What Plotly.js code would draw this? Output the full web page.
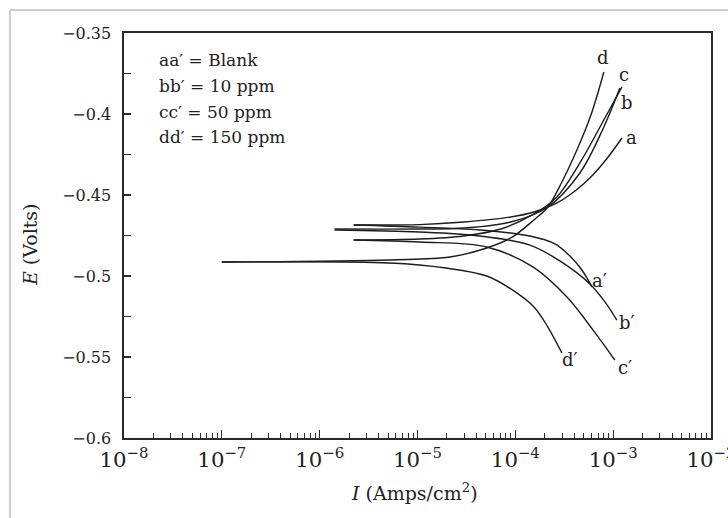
<!DOCTYPE html>
<html>
<head>
<meta charset="utf-8">
<script src="https://cdn.plot.ly/plotly-3.0.1.min.js"></script>
<style>html,body{margin:0;padding:0;background:#fff;}#chart{width:728px;height:518px;}</style>
</head>
<body>
<div id="chart"></div>
<script>
// Current density (A/cm2) and potential (V)
const currentA  = [2.23e-6, 1.05e-5, 2.97e-5, 9.0e-5, 1.55e-4, 2.66e-4, 4.07e-4, 5.78e-4, 8.4e-4, 1.23e-3];
const potentialA = [-0.4685, -0.4683, -0.4667, -0.4636, -0.4605, -0.4549, -0.4475, -0.4395, -0.4284, -0.4148];
const currentAp  = [2.23e-6, 1.05e-5, 4.33e-5, 1.41e-4, 2.54e-4, 3.61e-4, 4.79e-4, 6.07e-4];
const potentialAp = [-0.4685, -0.4698, -0.4716, -0.4753, -0.4802, -0.4877, -0.4963, -0.5068];

const currentB  = [1.42e-6, 1.05e-5, 2.97e-5, 9.0e-5, 2.15e-4, 4.57e-4, 8.03e-4, 1.17e-3];
const potentialB = [-0.4710, -0.4710, -0.4704, -0.4667, -0.4574, -0.4364, -0.4080, -0.3840];
const currentBp  = [1.42e-6, 1.05e-5, 4.33e-5, 1.41e-4, 2.85e-4, 5.78e-4, 8.24e-4, 1.09e-3];
const potentialBp = [-0.4716, -0.4728, -0.4753, -0.4809, -0.4907, -0.5049, -0.5160, -0.5272];

const currentC  = [2.23e-6, 1.05e-5, 2.97e-5, 7.1e-5, 1.55e-4, 2.66e-4, 4.57e-4, 8.03e-4, 1.23e-3];
const potentialC = [-0.4778, -0.4772, -0.4753, -0.4710, -0.4617, -0.4512, -0.4302, -0.4037, -0.3833];
const currentCp  = [2.23e-6, 1.05e-5, 5.1e-5, 1.51e-4, 3.37e-4, 6.21e-4, 1.04e-3];
const potentialCp = [-0.4778, -0.4790, -0.4821, -0.4944, -0.5130, -0.5333, -0.5519];

const currentD  = [1.0e-7, 5.2e-6, 2.14e-5, 5.1e-5, 9.0e-5, 1.55e-4, 2.15e-4, 2.99e-4, 4.26e-4, 5.78e-4, 6.98e-4, 8.03e-4];
const potentialD = [-0.4914, -0.4901, -0.4883, -0.4827, -0.4765, -0.4654, -0.4574, -0.4420, -0.4222, -0.4025, -0.3870, -0.3741];
const currentDp  = [1.0e-7, 5.2e-6, 1.95e-5, 5.1e-5, 9.0e-5, 1.55e-4, 2.15e-4, 2.99e-4];
const potentialDp = [-0.4914, -0.4920, -0.4951, -0.5000, -0.5080, -0.5191, -0.5315, -0.5475];

const legendLines = ['aa\u2032 = Blank', 'bb\u2032 = 10 ppm', 'cc\u2032 = 50 ppm', 'dd\u2032 = 150 ppm'];
const curveLabels = ['a', 'b', 'c', 'd', 'a\u2032', 'b\u2032', 'c\u2032', 'd\u2032'];

const serif = 'DejaVu Serif';
const lineStyle = {color: '#1c1c1c', width: 1.4, shape: 'spline', smoothing: 1};
const series = [
  [currentA, potentialA], [currentAp, potentialAp],
  [currentB, potentialB], [currentBp, potentialBp],
  [currentC, potentialC], [currentCp, potentialCp],
  [currentD, potentialD], [currentDp, potentialDp]
];
const traces = series.map(s => ({
  x: s[0], y: s[1], type: 'scatter', mode: 'lines',
  line: lineStyle, showlegend: false, hoverinfo: 'skip'
}));

const labelPos = [
  [0.8654, 0.7432], [0.8569, 0.8272], [0.8518, 0.8963], [0.8160, 0.9383],
  [0.8109, 0.3901], [0.8569, 0.2864], [0.8535, 0.1753], [0.7598, 0.1926]
];
const annotations = [];
curveLabels.forEach((t, i) => annotations.push({
  text: t, xref: 'paper', yref: 'paper', x: labelPos[i][0], y: labelPos[i][1],
  xanchor: 'center', yanchor: 'middle', showarrow: false,
  font: {family: serif, size: 18, color: '#222'}
}));
const legY = [0.933, 0.868, 0.805, 0.743];
legendLines.forEach((t, i) => annotations.push({
  text: t, xref: 'paper', yref: 'paper', x: 0.056, y: legY[i],
  xanchor: 'left', yanchor: 'middle', showarrow: false,
  font: {family: serif, size: 17, color: '#222'}
}));
annotations.push({
  text: '<i>E</i> (Volts)', xref: 'paper', yref: 'paper', x: -0.160, y: 0.4765,
  textangle: -90, xanchor: 'center', yanchor: 'middle', showarrow: false,
  font: {family: serif, size: 19, color: '#222'}
});
annotations.push({
  text: '<i>I</i> (Amps/cm<sup>2</sup>)', xref: 'paper', yref: 'paper', x: 0.4957, y: -0.133,
  xanchor: 'center', yanchor: 'middle', showarrow: false,
  font: {family: serif, size: 19, color: '#222'}
});

const layout = {
  width: 728, height: 518,
  margin: {l: 124, r: 17, t: 33, b: 80},
  paper_bgcolor: '#fff', plot_bgcolor: '#fff',
  font: {family: serif, color: '#222'},
  xaxis: {
    type: 'log', range: [-8, -2], dtick: 1, exponentformat: 'power', showexponent: 'all',
    showgrid: false, zeroline: false, showline: true, mirror: true,
    linecolor: '#2a2a2a', linewidth: 1.6,
    ticks: 'inside', ticklen: 8, tickwidth: 1.2, tickcolor: '#2a2a2a',
    ticklabelstandoff: 3, ticklabeloverflow: 'allow',
    tickfont: {family: serif, size: 17, color: '#222'},
    minor: {ticks: 'inside', ticklen: 5, tickwidth: 1, tickcolor: '#2a2a2a', dtick: 'D1', showgrid: false}
  },
  yaxis: {
    range: [-0.6, -0.35], tick0: -0.6, dtick: 0.05,
    showgrid: false, zeroline: false, showline: true, mirror: true,
    linecolor: '#2a2a2a', linewidth: 1.6,
    ticks: 'inside', ticklen: 7, tickwidth: 1.2, tickcolor: '#2a2a2a',
    ticklabelstandoff: 8, ticklabeloverflow: 'allow',
    tickfont: {family: serif, size: 16, color: '#222'},
    minor: {ticks: 'inside', ticklen: 7, tickwidth: 1, tickcolor: '#2a2a2a', dtick: 0.025, showgrid: false}
  },
  annotations: annotations,
  shapes: [
    {type: 'line', xref: 'paper', yref: 'paper', x0: -0.1942, x1: -0.1942, y0: -0.2, y1: 1.0568,
     line: {color: '#cfcfcf', width: 2}},
    {type: 'line', xref: 'paper', yref: 'paper', x0: -0.1942, x1: 1.03, y0: 1.0568, y1: 1.0568,
     line: {color: '#cfcfcf', width: 2}}
  ]
};

Plotly.newPlot('chart', traces, layout, {staticPlot: true, displayModeBar: false});
</script>
</body>
</html>
